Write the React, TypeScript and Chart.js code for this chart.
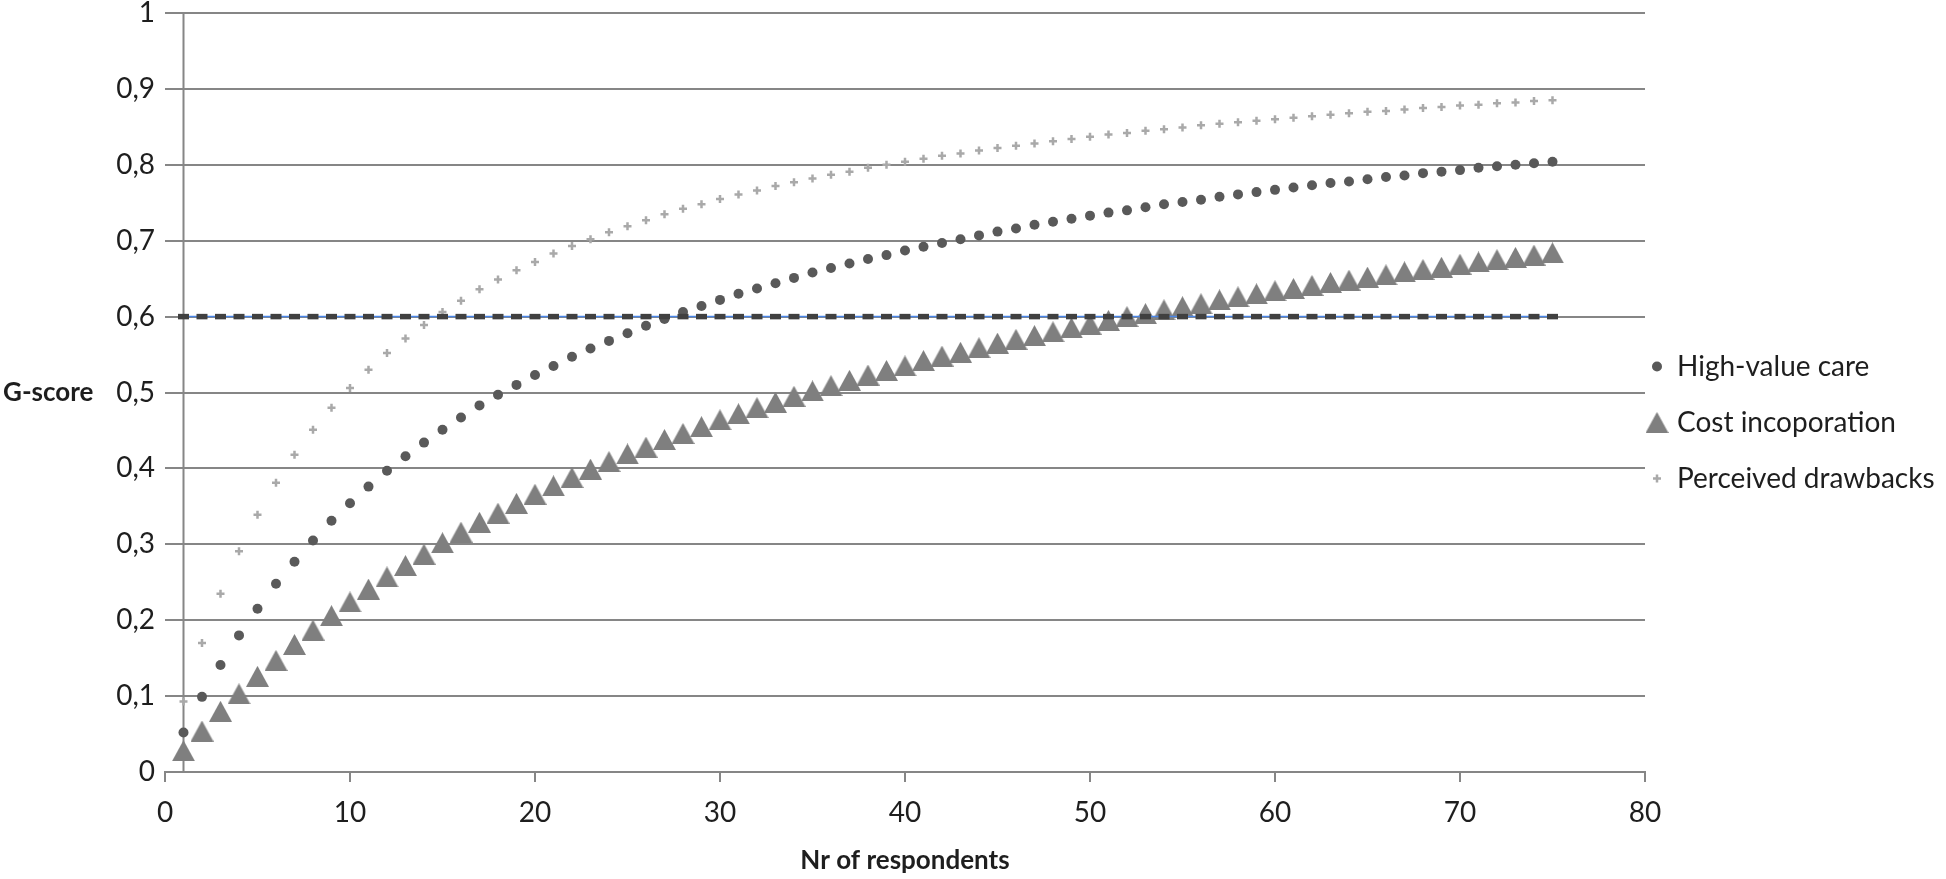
import { useEffect, useRef } from 'react';
import { Chart, registerables } from 'chart.js';

Chart.register(...registerables);

const RESPONDENTS = [
  1, 2, 3, 4, 5, 6, 7, 8, 9, 10, 11, 12, 13, 14, 15, 16, 17, 18, 19, 20,
  21, 22, 23, 24, 25, 26, 27, 28, 29, 30, 31, 32, 33, 34, 35, 36, 37, 38, 39, 40,
  41, 42, 43, 44, 45, 46, 47, 48, 49, 50, 51, 52, 53, 54, 55, 56, 57, 58, 59, 60,
  61, 62, 63, 64, 65, 66, 67, 68, 69, 70, 71, 72, 73, 74, 75,
];

const HIGH_VALUE_CARE = [
  0.052, 0.099, 0.141, 0.180, 0.215, 0.248, 0.277, 0.305, 0.331, 0.354,
  0.376, 0.397, 0.416, 0.434, 0.451, 0.467, 0.483, 0.497, 0.510, 0.523,
  0.535, 0.547, 0.558, 0.568, 0.578, 0.588, 0.597, 0.606, 0.614, 0.622,
  0.630, 0.637, 0.644, 0.651, 0.658, 0.664, 0.670, 0.676, 0.681, 0.687,
  0.692, 0.697, 0.702, 0.707, 0.712, 0.716, 0.721, 0.725, 0.729, 0.733,
  0.737, 0.740, 0.744, 0.748, 0.751, 0.754, 0.758, 0.761, 0.764, 0.767,
  0.770, 0.773, 0.776, 0.778, 0.781, 0.784, 0.786, 0.789, 0.791, 0.793,
  0.796, 0.798, 0.800, 0.802, 0.804,
];

const COST_INCORPORATION = [
  0.028, 0.054, 0.080, 0.103, 0.126, 0.147, 0.168, 0.187, 0.206, 0.224,
  0.241, 0.257, 0.272, 0.287, 0.302, 0.316, 0.329, 0.341, 0.354, 0.366,
  0.377, 0.388, 0.399, 0.409, 0.419, 0.428, 0.438, 0.446, 0.455, 0.464,
  0.472, 0.480, 0.487, 0.495, 0.502, 0.509, 0.516, 0.523, 0.529, 0.535,
  0.542, 0.548, 0.553, 0.559, 0.565, 0.570, 0.575, 0.580, 0.585, 0.590,
  0.595, 0.600, 0.604, 0.609, 0.613, 0.617, 0.622, 0.626, 0.630, 0.634,
  0.637, 0.641, 0.645, 0.648, 0.652, 0.655, 0.659, 0.662, 0.665, 0.669,
  0.672, 0.675, 0.678, 0.681, 0.684,
];

const PERCEIVED_DRAWBACKS = [
  0.093, 0.170, 0.235, 0.291, 0.339, 0.381, 0.418, 0.451, 0.480, 0.506,
  0.530, 0.552, 0.571, 0.589, 0.606, 0.621, 0.636, 0.649, 0.661, 0.672,
  0.683, 0.693, 0.702, 0.711, 0.719, 0.727, 0.735, 0.742, 0.748, 0.755,
  0.761, 0.766, 0.772, 0.777, 0.782, 0.787, 0.791, 0.796, 0.800, 0.804,
  0.808, 0.812, 0.815, 0.819, 0.822, 0.825, 0.828, 0.831, 0.834, 0.837,
  0.840, 0.842, 0.845, 0.847, 0.849, 0.852, 0.854, 0.856, 0.858, 0.860,
  0.862, 0.864, 0.866, 0.868, 0.870, 0.871, 0.873, 0.875, 0.876, 0.878,
  0.879, 0.881, 0.882, 0.884, 0.885,
];

const THRESHOLD = [
  0.6, 0.6, 0.6, 0.6, 0.6, 0.6, 0.6, 0.6, 0.6, 0.6,
  0.6, 0.6, 0.6, 0.6, 0.6, 0.6, 0.6, 0.6, 0.6, 0.6,
  0.6, 0.6, 0.6, 0.6, 0.6, 0.6, 0.6, 0.6, 0.6, 0.6,
  0.6, 0.6, 0.6, 0.6, 0.6, 0.6, 0.6, 0.6, 0.6, 0.6,
  0.6, 0.6, 0.6, 0.6, 0.6, 0.6, 0.6, 0.6, 0.6, 0.6,
  0.6, 0.6, 0.6, 0.6, 0.6, 0.6, 0.6, 0.6, 0.6, 0.6,
  0.6, 0.6, 0.6, 0.6, 0.6, 0.6, 0.6, 0.6, 0.6, 0.6,
  0.6, 0.6, 0.6, 0.6, 0.6,
];

const SERIES_LABELS = ['High-value care', 'Cost incoporation', 'Perceived drawbacks'];
const X_TITLE = 'Nr of respondents';
const Y_TITLE = 'G-score';
const X_MIN = 0;
const X_MAX = 80;
const X_STEP = 10;
const Y_MIN = 0;
const Y_MAX = 1;
const Y_STEP = 0.1;
const Y_AXIS_CROSS_X = 1;

const FONT = 'Lato, "Noto Sans", sans-serif';
const FONT_SIZE = 28;
const BOLD_SIZE = 26;
const GRID = '#868686';
const TEXT = '#1e1e1e';
const C_CIRCLE = '#595959';
const C_TRIANGLE = '#7f7f7f';
const C_PLUS = '#a9a9a9';

function toPts(ys: number[]) {
  return ys.map((y, i) => ({ x: RESPONDENTS[i], y }));
}

function makeTriangle(color: string, w: number, h: number) {
  const c = document.createElement('canvas');
  c.width = w;
  c.height = h;
  const g = c.getContext('2d')!;
  g.fillStyle = color;
  g.beginPath();
  g.moveTo(w / 2, 0);
  g.lineTo(w, h);
  g.lineTo(0, h);
  g.closePath();
  g.fill();
  return c;
}

export default function App() {
  const ref = useRef<HTMLCanvasElement | null>(null);

  useEffect(() => {
    document.body.style.margin = '0';
    const canvas = ref.current!;
    const tri = makeTriangle(C_TRIANGLE, 23, 21);

    const decor = {
      id: 'decor',
      beforeDatasetsDraw(chart: any) {
        const { ctx, chartArea, scales } = chart;
        const x = scales.x.getPixelForValue(Y_AXIS_CROSS_X);
        ctx.save();
        ctx.strokeStyle = GRID;
        ctx.lineWidth = 2;
        ctx.beginPath();
        ctx.moveTo(x, chartArea.top);
        ctx.lineTo(x, chartArea.bottom);
        ctx.stroke();
        ctx.restore();
      },
      afterDraw(chart: any) {
        const { ctx, chartArea } = chart;
        ctx.save();
        ctx.fillStyle = TEXT;
        ctx.font = `bold ${BOLD_SIZE}px ${FONT}`;
        ctx.textAlign = 'left';
        ctx.textBaseline = 'middle';
        const cy = (chartArea.top + chartArea.bottom) / 2;
        ctx.fillText(Y_TITLE, 3, cy);
        const base = cy + 30;
        const gap = 56;
        const mx = chartArea.right + 12;
        const tx = chartArea.right + 32;
        ctx.font = `${FONT_SIZE}px ${FONT}`;
        SERIES_LABELS.forEach((label, i) => {
          const y = base + (i - 1) * gap;
          if (i === 0) {
            ctx.fillStyle = C_CIRCLE;
            ctx.beginPath();
            ctx.arc(mx, y, 5, 0, Math.PI * 2);
            ctx.fill();
          } else if (i === 1) {
            ctx.drawImage(tri, mx - 11.5, y - 10.5);
          } else {
            ctx.strokeStyle = C_PLUS;
            ctx.lineWidth = 2.5;
            ctx.beginPath();
            ctx.moveTo(mx - 4, y);
            ctx.lineTo(mx + 4, y);
            ctx.moveTo(mx, y - 4);
            ctx.lineTo(mx, y + 4);
            ctx.stroke();
          }
          ctx.fillStyle = TEXT;
          ctx.fillText(label, tx, y);
        });
        ctx.restore();
      },
    };

    const chart = new Chart(canvas, {
      type: 'scatter',
      data: {
        datasets: [
          {
            label: 'Threshold',
            data: toPts(THRESHOLD),
            showLine: true,
            borderColor: '#4a86e8',
            borderWidth: 1.5,
            pointStyle: 'line',
            pointRadius: 5.5,
            pointBorderWidth: 5.5,
            pointBorderColor: '#404040',
            pointBackgroundColor: '#404040',
            order: 0,
          },
          {
            label: SERIES_LABELS[0],
            data: toPts(HIGH_VALUE_CARE),
            pointStyle: 'circle',
            pointRadius: 5,
            pointBackgroundColor: C_CIRCLE,
            pointBorderColor: C_CIRCLE,
            pointBorderWidth: 0,
            order: 3,
          },
          {
            label: SERIES_LABELS[1],
            data: toPts(COST_INCORPORATION),
            pointStyle: tri as any,
            pointRadius: 12,
            order: 2,
          },
          {
            label: SERIES_LABELS[2],
            data: toPts(PERCEIVED_DRAWBACKS),
            pointStyle: 'cross',
            pointRadius: 4,
            pointBorderWidth: 2.5,
            pointBorderColor: C_PLUS,
            pointBackgroundColor: C_PLUS,
            order: 1,
          },
        ],
      },
      options: {
        responsive: false,
        animation: false,
        devicePixelRatio: 1,
        layout: { padding: { left: 0, top: 13, right: 301, bottom: 0 } },
        plugins: {
          legend: { display: false },
          tooltip: { enabled: false },
        },
        scales: {
          x: {
            type: 'linear',
            min: X_MIN,
            max: X_MAX,
            afterFit: (s: any) => {
              s.height = 107;
              s.paddingLeft = 0;
              s.paddingRight = 0;
            },
            ticks: {
              stepSize: X_STEP,
              color: TEXT,
              padding: 17,
              font: { family: FONT, size: FONT_SIZE, lineHeight: 1 },
            },
            grid: {
              drawOnChartArea: false,
              drawTicks: true,
              tickLength: 10,
              color: GRID,
              lineWidth: 2,
            },
            border: { display: true, color: GRID, width: 2 },
            title: {
              display: true,
              text: X_TITLE,
              color: TEXT,
              font: { family: FONT, size: BOLD_SIZE, weight: 'bold' },
              padding: { top: 0, bottom: 3 },
            },
          },
          y: {
            type: 'linear',
            min: Y_MIN,
            max: Y_MAX,
            afterFit: (s: any) => {
              s.width = 165;
              s.paddingTop = 0;
              s.paddingBottom = 0;
            },
            ticks: {
              stepSize: Y_STEP,
              color: TEXT,
              padding: 10,
              font: { family: FONT, size: FONT_SIZE, lineHeight: 1 },
              callback: (v: any) => String(Math.round(Number(v) * 10) / 10).replace('.', ','),
            },
            grid: {
              drawTicks: false,
              color: GRID,
              lineWidth: 2,
            },
            border: { display: false },
          },
        },
      },
      plugins: [decor],
    });

    return () => chart.destroy();
  }, []);

  return (
    <div style={{ width: 1946, height: 879, background: '#fff' }}>
      <canvas ref={ref} width={1946} height={879} style={{ display: 'block' }} />
    </div>
  );
}
